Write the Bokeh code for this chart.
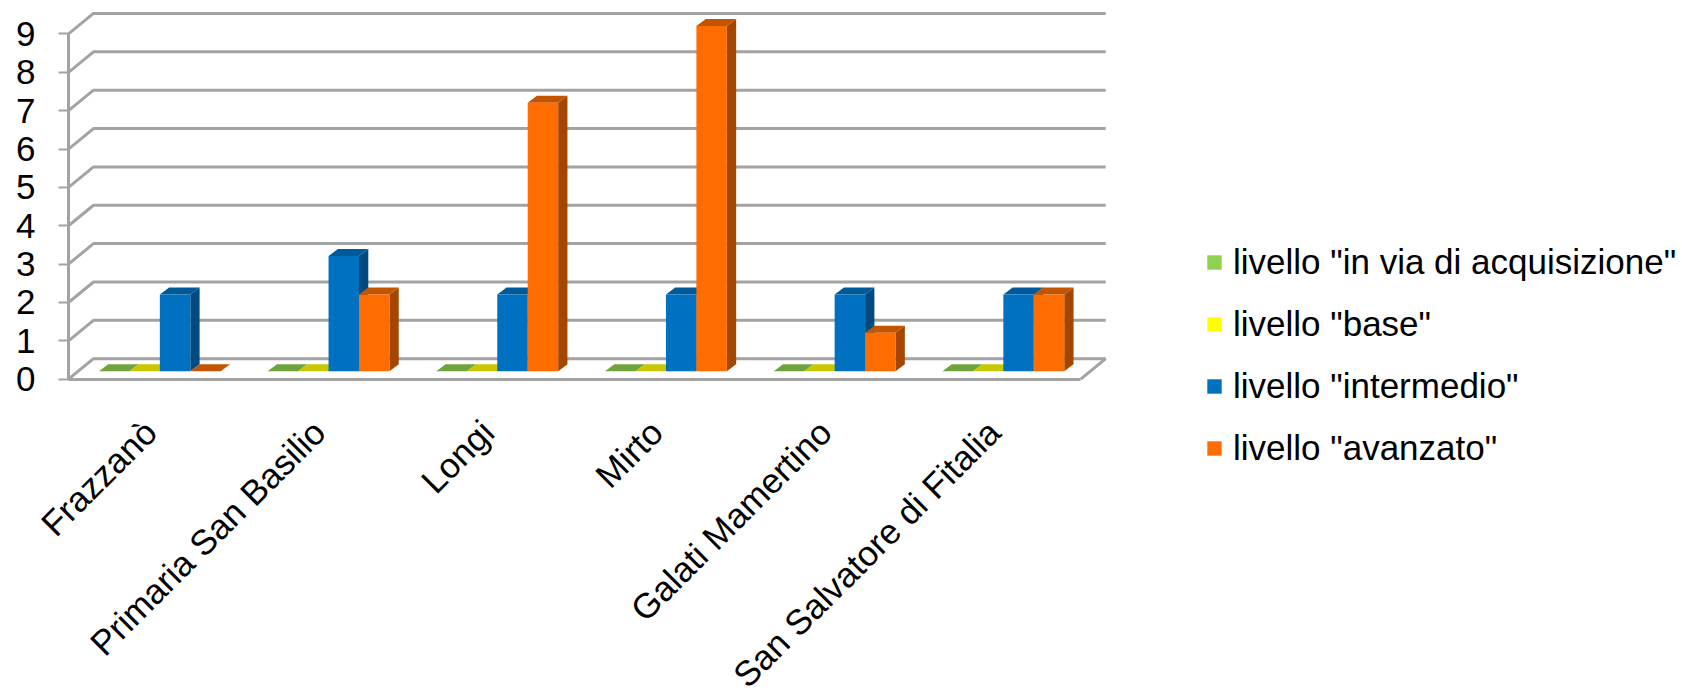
from bokeh.plotting import figure
from bokeh.models import ColumnDataSource, FixedTicker, Legend, LegendItem, Range1d
from bokeh.embed import file_html
from bokeh.resources import INLINE

categories = ["Frazzanò", "Primaria San Basilio", "Longi", "Mirto", "Galati Mamertino", "San Salvatore di Fitalia"]
in_via = [0, 0, 0, 0, 0, 0]
base = [0, 0, 0, 0, 0, 0]
intermedio = [2, 3, 2, 2, 2, 2]
avanzato = [0, 2, 7, 9, 1, 2]
y_ticks = [0, 1, 2, 3, 4, 5, 6, 7, 8, 9]

series = [
    ('livello "in via di acquisizione"', in_via, "#92D050", "#6FA33E", "#5F8C34"),
    ('livello "base"', base, "#FFFF00", "#C9C800", "#A8A800"),
    ('livello "intermedio"', intermedio, "#0070C0", "#005A9A", "#004A80"),
    ('livello "avanzato"', avanzato, "#FF6D00", "#C45500", "#A34700"),
]

FONT = "Liberation Sans"
GRID = "#A3A3A3"
PX_X = 168.7   # pixels per category
PX_Y = 38.36   # pixels per unit
LEFT, ZERO_PAGE = 68, 378.7
W, H = 1682, 688

wall_dx = 25 / PX_X
wall_dy = 20.5 / PX_Y
bar_dx = 9.3 / PX_X
bar_dy = 7 / PX_Y
base_y = 8 / PX_Y
bar_w = 30.45 / PX_X
group_shift = 7 / PX_X

p = figure(width=W, height=H, output_backend="svg", toolbar_location=None,
           x_range=Range1d(-LEFT / PX_X, (W - LEFT) / PX_X),
           y_range=Range1d(-(H - ZERO_PAGE) / PX_Y, ZERO_PAGE / PX_Y),
           min_border_left=0, min_border_right=0, min_border_top=0,
           min_border_bottom=0, outline_line_color=None)
p.grid.visible = False

# rear wall and floor lines
xs, ys = [], []
for v in y_ticks:
    xs.append([0, wall_dx, len(categories) + wall_dx])
    ys.append([v, v + wall_dy, v + wall_dy])
xs.append([len(categories), len(categories) + wall_dx])
ys.append([0, wall_dy])
p.multi_line(xs, ys, line_color=GRID, line_width=3)

# bars
legend_items = []
for s, (name, vals, front, top, side) in enumerate(series):
    lefts = [i + 0.5 + group_shift + (s - 2) * bar_w for i in range(len(categories))]
    rights = [l + bar_w for l in lefts]
    side_x = [[r, r + bar_dx, r + bar_dx, r] for r in rights]
    side_y = [[base_y, base_y + bar_dy, v + base_y + bar_dy, v + base_y] for v in vals]
    top_x = [[l, l + bar_dx, r + bar_dx, r] for l, r in zip(lefts, rights)]
    top_y = [[v + base_y, v + base_y + bar_dy, v + base_y + bar_dy, v + base_y] for v in vals]
    p.patches(side_x, side_y, fill_color=side, line_color=None)
    p.patches(top_x, top_y, fill_color=top, line_color=None)
    src = ColumnDataSource(dict(x=[l + bar_w / 2 for l in lefts], top=[v + base_y for v in vals],
                                bottom=[base_y] * len(vals)))
    r = p.vbar(x="x", top="top", bottom="bottom", width=bar_w, source=src, fill_color=front, line_color=None)
    legend_items.append(LegendItem(label=name, renderers=[r]))

# value axis
yax = p.yaxis[0]
yax.fixed_location = 0
yax.ticker = FixedTicker(ticks=y_ticks)
yax.bounds = (0, 9)
yax.axis_line_color = GRID
yax.axis_line_width = 3
yax.major_tick_line_color = GRID
yax.major_tick_line_width = 2
yax.major_tick_in = 0
yax.major_tick_out = 10
yax.minor_tick_line_color = None
yax.major_label_text_font = FONT
yax.major_label_text_font_size = "35px"
yax.major_label_text_color = "#000000"
yax.major_label_standoff = 23

# category axis
tick_pos = [i + 0.5 - 2.5 / PX_X for i in range(len(categories))]
xax = p.xaxis[0]
xax.fixed_location = 0
xax.ticker = FixedTicker(ticks=tick_pos)
xax.major_label_overrides = dict(zip(tick_pos, categories))
xax.bounds = (0, len(categories))
xax.axis_line_color = GRID
xax.axis_line_width = 3
xax.major_tick_line_color = None
xax.minor_tick_line_color = None
xax.major_label_orientation = 0.785
xax.major_label_text_font = FONT
xax.major_label_text_font_size = "35px"
xax.major_label_text_color = "#000000"
xax.major_label_standoff = 41

legend = Legend(items=legend_items, location=(1205, 220), orientation="vertical",
                background_fill_alpha=0, border_line_color=None,
                glyph_width=18, glyph_height=18, label_standoff=10, spacing=22,
                padding=0, margin=0,
                label_text_font=FONT, label_text_font_size="35px", label_text_color="#000000")
p.add_layout(legend)

open("out.html", "w").write(file_html(p, INLINE))
